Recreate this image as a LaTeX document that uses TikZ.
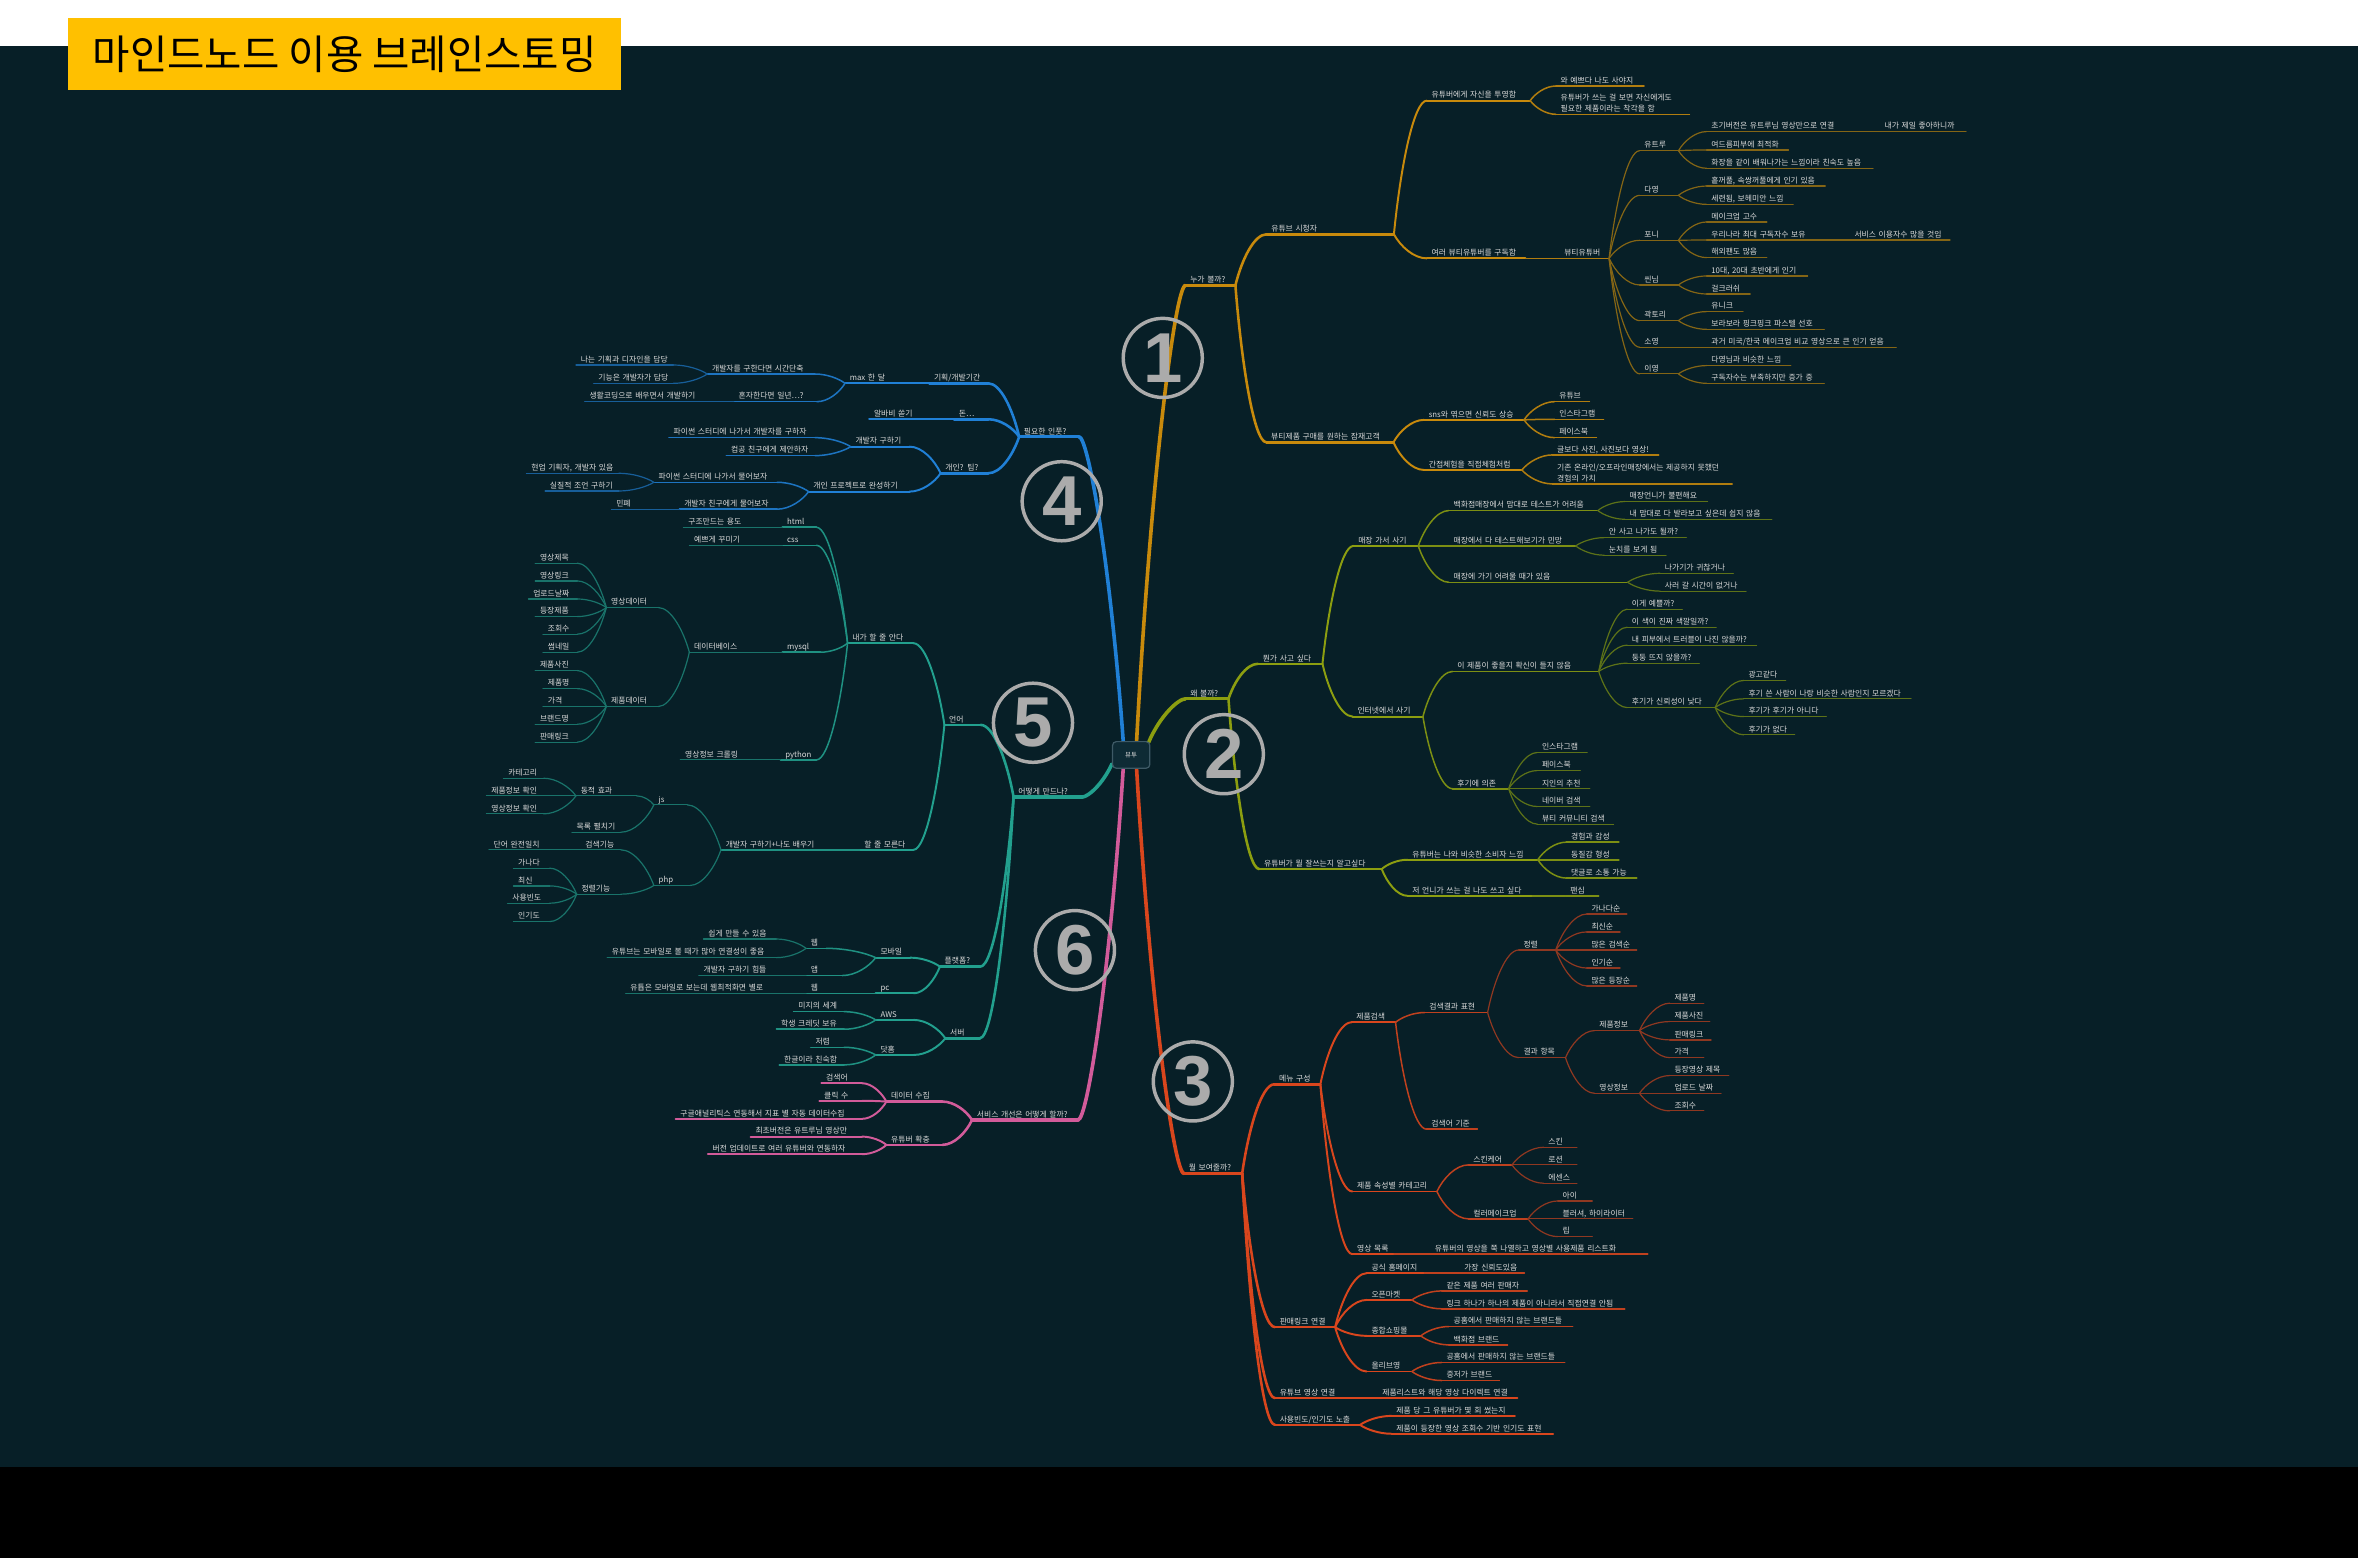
\documentclass[tikz,border=0pt]{standalone}
\usepackage{fontspec}
\setmainfont{Noto Sans CJK KR}
\newfontfamily\digitfont{Liberation Sans}
\usetikzlibrary{calc}
\pgfdeclarelayer{back}
\pgfdeclarelayer{lines}
\pgfsetlayers{back,lines,main}
\definecolor{bgc}{HTML}{071F27}
\definecolor{cA}{HTML}{C88A0C}
\definecolor{cB}{HTML}{8C9E10}
\definecolor{cC}{HTML}{D9461D}
\definecolor{cD}{HTML}{2080D6}
\definecolor{cE}{HTML}{22A08E}
\definecolor{cF}{HTML}{D25B9A}
\definecolor{txc}{HTML}{DADADA}
\definecolor{numc}{HTML}{ABABAB}
\definecolor{ttl}{HTML}{FFC000}
\definecolor{rootf}{HTML}{0E2B35}
\definecolor{rootd}{HTML}{3E5A66}
\newcommand\fsm{\fontsize{5.2pt}{7.1pt}\selectfont}
\tikzset{
  tbase/.style={inner xsep=3pt, inner ysep=1.2pt, text=txc, font=\fsm, align=left, anchor=south west},
  oneline/.style={text height=4.2pt, text depth=0.4pt},
  ndu/.style 2 args={tbase, append after command={(\tikzlastnode.south west) edge[draw=#1, line width=#2, line cap=round] (\tikzlastnode.south east)}},
  L1/.style={ndu={#1}{2.2pt}},
  L2/.style={ndu={#1}{1.7pt}},
  L3/.style={ndu={#1}{1.3pt}},
  L4/.style={ndu={#1!88!bgc}{1.0pt}},
  L5/.style={ndu={#1!65!bgc}{0.8pt}},
  K1/.style={draw=#1, line width=2.2pt, line cap=round},
  K2/.style={draw=#1, line width=1.7pt, line cap=round},
  K3/.style={draw=#1, line width=1.3pt, line cap=round},
  K4/.style={draw=#1!88!bgc, line width=1.0pt, line cap=round},
  K5/.style={draw=#1!65!bgc, line width=0.8pt, line cap=round},
  mline/.style={draw=#1, line width=2.4pt, line cap=round},
  conn/.style={to path={let \p1=(\tikztostart), \p2=(\tikztotarget) in .. controls ({\x1+0.2*(\x2-\x1)},{\y1+0.5*(\y2-\y1)}) and ({\x2-0.4*(\x2-\x1)},\y2) .. (\tikztotarget)}},
  mconn/.style={to path={let \p1=(\tikztostart), \p2=(\tikztotarget) in .. controls ({\x1+0.3*(\x2-\x1)},{\y1+0.6*(\y2-\y1)}) and ({\x2-0.2*(\x2-\x1)},\y2) .. (\tikztotarget)}},
  numring/.style={circle, draw=numc, line width=2.3pt, minimum size=52.6pt, inner sep=0pt, text=numc, font=\digitfont\bfseries\fontsize{47pt}{47pt}\selectfont},
}
% first-level node: color, name, x1, x2, y, text
\newcommand\FN[6]{\pgfmathsetmacro\mytw{#4-#3-6}\node[L1=#1, oneline, text width=\mytw pt] (#2) at (#3,#5) {\mbox{#6}};}
% right-side child: level, color, parent, name, x1, x2, y, text
\newcommand\RN[8]{\pgfmathsetmacro\mytw{#6-#5-6}\node[L#1=#2, oneline, text width=\mytw pt] (#4) at (#5,#7) {\mbox{#8}};\draw[K#1=#2] (#3.south east) to[conn] (#4.south west);}
\newcommand\RM[8]{\pgfmathsetmacro\mytw{#6-#5-6}\node[L#1=#2, text width=\mytw pt] (#4) at (#5,#7) {#8};\draw[K#1=#2] (#3.south east) to[conn] (#4.south west);}
% left-side child
\newcommand\LN[8]{\pgfmathsetmacro\mytw{#6-#5-6}\node[L#1=#2, oneline, text width=\mytw pt] (#4) at (#5,#7) {\mbox{#8}};\draw[K#1=#2] (#3.south west) to[conn] (#4.south east);}
\begin{document}
\begin{tikzpicture}[x=1pt,y=-1pt]
\useasboundingbox (0,0) rectangle (1568,1036);
\begin{pgfonlayer}{back}
\fill[white] (0,0) rectangle (1568,30.4);
\fill[bgc] (0,30.4) rectangle (1568,975.5);
\fill[black] (0,975.5) rectangle (1568,1036);
\end{pgfonlayer}
\node[fill=ttl, text=black, minimum width=368pt, minimum height=47.5pt, inner sep=0pt, anchor=north west, font=\fontsize{27pt}{30pt}\selectfont] (title) at (45,12) {마인드노드 이용 브레인스토밍};
\node[draw=rootd, fill=rootf, rounded corners=2.5pt, line width=0.8pt, minimum width=24.8pt, minimum height=17.7pt, inner sep=0pt, text=txc, font=\fontsize{4.3pt}{5pt}\selectfont] (root) at (752.2,502) {뷰투};

% ---------- Branch A ----------
\FN{cA}{a1}{788.3}{821.1}{189.8}{누가 볼까?}
\RN{2}{cA}{a1}{a2}{842.2}{926.5}{155.8}{유튜브 시청자}
\RN{2}{cA}{a1}{a3}{842.1}{926.2}{294.1}{뷰티제품 구매를 원하는 잠재고객}
\RN{3}{cA}{a2}{a4}{948.8}{1017.1}{66.9}{유튜버에게 자신을 투영함}
\RN{3}{cA}{a2}{a5}{948.8}{1014}{171.8}{여러 뷰티유튜버를 구독함}
\RN{4}{cA}{a4}{a6}{1034.6}{1092.8}{57.2}{와 예쁘다 나도 사야지}
\RM{4}{cA}{a4}{a7}{1034.6}{1123}{76.0}{\mbox{유튜버가 쓰는 걸 보면 자신에게도}\\\mbox{필요한 제품이라는 착각을 함}}
\RN{4}{cA}{a5}{a8}{1037}{1069.6}{171.8}{뷰티유튜버}
\RN{5}{cA}{a8}{a9}{1090.3}{1115.7}{100.2}{유트루}
\RN{5}{cA}{a8}{a10}{1090.3}{1115.7}{129.9}{다영}
\RN{5}{cA}{a8}{a11}{1090.3}{1115.7}{159.8}{포니}
\RN{5}{cA}{a8}{a12}{1090.3}{1115.7}{189.5}{씬님}
\RN{5}{cA}{a8}{a13}{1090.3}{1115.7}{213.2}{곽토리}
\RN{5}{cA}{a8}{a14}{1090.3}{1115.7}{230.9}{소영}
\RN{5}{cA}{a8}{a15}{1090.3}{1115.7}{248.6}{이영}
\RN{5}{cA}{a9}{a16}{1134.8}{1229}{87.5}{초기버전은 유트루님 영상만으로 연결}
\RN{5}{cA}{a16}{a17}{1250}{1307}{87.5}{내가 제일 좋아하니까}
\RN{5}{cA}{a9}{a18}{1134.8}{1188.9}{99.7}{여드름피부에 최적화}
\RN{5}{cA}{a9}{a19}{1134.8}{1245.1}{111.9}{화장을 같이 배워나가는 느낌이라 친숙도 높음}
\RN{5}{cA}{a10}{a20}{1134.8}{1213.3}{123.7}{홑꺼풀, 속쌍꺼풀에게 인기 있음}
\RN{5}{cA}{a10}{a21}{1134.8}{1192}{135.9}{세련됨, 보헤미안 느낌}
\RN{5}{cA}{a11}{a22}{1134.8}{1174.5}{147.6}{메이크업 고수}
\RN{5}{cA}{a11}{a23}{1134.8}{1210}{159.6}{우리나라 최대 구독자수 보유}
\RN{5}{cA}{a23}{a24}{1230}{1296.3}{159.6}{서비스 이용자수 많을 것임}
\RN{5}{cA}{a11}{a25}{1134.8}{1174.5}{171.3}{해외팬도 많음}
\RN{5}{cA}{a12}{a26}{1134.8}{1201.6}{183.5}{10대, 20대 초반에게 인기}
\RN{5}{cA}{a12}{a27}{1134.8}{1163.4}{195.5}{걸크러쉬}
\RN{5}{cA}{a13}{a28}{1134.8}{1158.6}{207.2}{유니크}
\RN{5}{cA}{a13}{a29}{1134.8}{1212.7}{219.0}{보라보라 핑크핑크 파스텔 선호}
\RN{5}{cA}{a14}{a30}{1134.8}{1260.5}{230.9}{과거 미국/한국 메이크업 비교 영상으로 큰 인기 얻음}
\RN{5}{cA}{a15}{a31}{1134.8}{1190.4}{243.1}{다영님과 비슷한 느낌}
\RN{5}{cA}{a15}{a32}{1134.8}{1212.7}{254.9}{구독자수는 부족하지만 증가 중}
\RN{3}{cA}{a3}{a33}{946.9}{1013}{279.2}{sns와 엮으면 신뢰도 상승}
\RN{3}{cA}{a3}{a34}{946.9}{1011.6}{312.5}{간접체험을 직접체험처럼}
\RN{4}{cA}{a33}{a35}{1033.7}{1056.5}{267.1}{유튜브}
\RN{4}{cA}{a33}{a36}{1033.7}{1065.9}{278.8}{인스타그램}
\RN{4}{cA}{a33}{a37}{1033.7}{1061.2}{291.0}{페이스북}
\RN{4}{cA}{a34}{a38}{1032.3}{1102.6}{302.5}{글보다 사진, 사진보다 영상!}
\RM{4}{cA}{a34}{a39}{1032.3}{1151.4}{321.8}{\mbox{기존 온라인/오프라인매장에서는 제공하지 못했던}\\\mbox{경험의 가치}}

% ---------- Branch B ----------
\FN{cB}{b1}{788.3}{816.5}{464.7}{왜 볼까?}
\RN{2}{cB}{b1}{b2}{836.5}{879}{441.4}{뭔가 사고 싶다}
\RN{2}{cB}{b1}{b3}{837.4}{918.4}{577.9}{유튜버가 뭘 잘쓰는지 알고싶다}
\RN{3}{cB}{b2}{b4}{900}{942.7}{363}{매장 가서 사기}
\RN{3}{cB}{b2}{b5}{899.5}{945.8}{476.5}{인터넷에서 사기}
\RN{4}{cB}{b4}{b6}{963.4}{1062.1}{339.5}{백화점매장에서 맘대로 테스트가 어려움}
\RN{4}{cB}{b4}{b7}{963.4}{1047.4}{363}{매장에서 다 테스트해보기가 민망}
\RN{4}{cB}{b4}{b8}{963.4}{1081.9}{387.2}{매장에 가기 어려울 때가 있음}
\RN{5}{cB}{b6}{b9}{1080.5}{1135.1}{333.5}{매장언니가 불편해요}
\RN{5}{cB}{b6}{b10}{1080.5}{1177.8}{345.3}{내 맘대로 다 발라보고 싶은데 쉽지 않음}
\RN{5}{cB}{b7}{b11}{1066.7}{1121}{357.5}{안 사고 나가도 될까?}
\RN{5}{cB}{b7}{b12}{1066.7}{1107.5}{369.2}{눈치를 보게 됨}
\RN{5}{cB}{b8}{b13}{1103.9}{1152.2}{381.2}{나가기가 귀찮거나}
\RN{5}{cB}{b8}{b14}{1103.9}{1160.7}{393.1}{사러 갈 시간이 없거나}
\RN{4}{cB}{b5}{b15}{965.9}{1062.7}{446.5}{이 제품이 좋을지 확신이 들지 않음}
\RN{4}{cB}{b5}{b16}{965.9}{1002.8}{524.5}{후기에 의존}
\RN{5}{cB}{b15}{b17}{1082}{1118.3}{405.1}{이게 예쁠까?}
\RN{5}{cB}{b15}{b18}{1082}{1140.8}{417.1}{이 색이 진짜 색깔일까?}
\RN{5}{cB}{b15}{b19}{1082}{1167.6}{429.0}{내 피부에서 트러블이 나진 않을까?}
\RN{5}{cB}{b15}{b20}{1082}{1129.6}{441.0}{둥둥 뜨지 않을까?}
\RN{5}{cB}{b15}{b21}{1082}{1140.1}{470.5}{후기가 신뢰성이 낮다}
\RN{5}{cB}{b21}{b22}{1159.5}{1187}{452.5}{광고같다}
\RN{5}{cB}{b21}{b23}{1159.5}{1270.4}{464.7}{후기 쓴 사람이 나랑 비슷한 사람인지 모르겠다}
\RN{5}{cB}{b21}{b24}{1159.5}{1214}{476.5}{후기가 후기가 아니다}
\RN{5}{cB}{b21}{b25}{1159.5}{1193}{488.6}{후기가 없다}
\RN{5}{cB}{b16}{b26}{1022.2}{1055}{500.4}{인스타그램}
\RN{5}{cB}{b16}{b27}{1022.2}{1050.4}{512.4}{페이스북}
\RN{5}{cB}{b16}{b28}{1022.2}{1056.7}{524.5}{지인의 추천}
\RN{5}{cB}{b16}{b29}{1022.2}{1056.7}{536.3}{네이버 검색}
\RN{5}{cB}{b16}{b30}{1022.2}{1072.5}{548.0}{뷰티 커뮤니티 검색}
\RN{3}{cB}{b3}{b31}{936}{1022.2}{571.7}{유튜버는 나와 비슷한 소비자 느낌}
\RN{3}{cB}{b3}{b32}{936}{1018.7}{595.7}{저 언니가 쓰는 걸 나도 쓰고 싶다}
\RN{4}{cB}{b32}{b33}{1041}{1062.7}{595.7}{팬심}
\RN{4}{cB}{b31}{b34}{1041.6}{1076.1}{560}{경험과 감성}
\RN{4}{cB}{b31}{b35}{1041.6}{1076.1}{571.7}{동질감 형성}
\RN{4}{cB}{b31}{b36}{1041.6}{1088}{583.9}{댓글로 소통 가능}

% ---------- Branch C ----------
\FN{cC}{c1}{787.3}{825.6}{780.3}{뭘 보여줄까?}
\RN{2}{cC}{c1}{c2}{847.4}{877.6}{721}{메뉴 구성}
\RN{2}{cC}{c1}{c3}{847.8}{887.4}{882.5}{판매링크 연결}
\RN{2}{cC}{c1}{c4}{847.8}{891}{929.7}{유튜브 영상 연결}
\RN{3}{cC}{c4}{c5}{916}{1008.6}{929.7}{제품리스트와 해당 영상 다이렉트 연결}
\RN{2}{cC}{c1}{c6}{847.8}{904}{947.5}{사용빈도/인기도 노출}
\RN{3}{cC}{c2}{c7}{898.7}{927.6}{679.8}{제품검색}
\RN{3}{cC}{c2}{c8}{899.3}{955.1}{792.3}{제품 속성별 카테고리}
\RN{3}{cC}{c2}{c9}{899.3}{926.6}{834}{영상 목록}
\RN{4}{cC}{c9}{c10}{951}{1095.3}{834}{유튜버의 영상을 쭉 나열하고 영상별 사용제품 리스트화}
\RN{4}{cC}{c7}{c11}{947.3}{988.8}{673.3}{검색결과 표현}
\RN{4}{cC}{c7}{c12}{948.6}{982}{750.9}{검색어 기준}
\RN{5}{cC}{c11}{c13}{1009.9}{1034.1}{631.7}{정렬}
\RN{5}{cC}{c11}{c14}{1009.9}{1040.6}{703.3}{결과 항목}
\RN{5}{cC}{c13}{c15}{1055.1}{1081.4}{607.8}{가나다순}
\RN{5}{cC}{c13}{c16}{1055.1}{1076.9}{619.7}{최신순}
\RN{5}{cC}{c13}{c17}{1055.1}{1088}{631.7}{많은 검색순}
\RN{5}{cC}{c13}{c18}{1055.1}{1076.9}{643.7}{인기순}
\RN{5}{cC}{c13}{c19}{1055.1}{1088}{655.6}{많은 등장순}
\RN{5}{cC}{c14}{c20}{1060.3}{1089.8}{685.3}{제품정보}
\RN{5}{cC}{c14}{c21}{1060.3}{1089.8}{727}{영상정보}
\RN{5}{cC}{c20}{c22}{1110.3}{1132.6}{667.1}{제품명}
\RN{5}{cC}{c20}{c23}{1110.3}{1136.6}{679.3}{제품사진}
\RN{5}{cC}{c20}{c24}{1110.3}{1137.4}{691.5}{판매링크}
\RN{5}{cC}{c20}{c25}{1110.3}{1132.6}{703.3}{가격}
\RN{5}{cC}{c21}{c26}{1110.3}{1149.2}{715.2}{등장영상 제목}
\RN{5}{cC}{c21}{c27}{1110.3}{1144}{727}{업로드 날짜}
\RN{5}{cC}{c21}{c28}{1110.3}{1132.6}{738.7}{조회수}
\RN{4}{cC}{c8}{c29}{976.5}{1005}{774.6}{스킨케어}
\RN{4}{cC}{c8}{c30}{976.5}{1015.7}{810.5}{컬러메이크업}
\RN{5}{cC}{c29}{c31}{1026.4}{1048.2}{762.9}{스킨}
\RN{5}{cC}{c29}{c32}{1026.4}{1048.2}{774.6}{로션}
\RN{5}{cC}{c29}{c33}{1026.4}{1048.2}{786.8}{에센스}
\RN{5}{cC}{c30}{c34}{1035.9}{1058.4}{798.6}{아이}
\RN{5}{cC}{c30}{c35}{1035.9}{1085.3}{810.5}{블러셔, 하이라이터}
\RN{5}{cC}{c30}{c36}{1035.9}{1058.4}{822.3}{립}
\RN{3}{cC}{c3}{c37}{908.8}{946.8}{846.6}{공식 홈페이지}
\RN{4}{cC}{c37}{c38}{970.5}{1013.3}{846.6}{가장 신뢰도있음}
\RN{3}{cC}{c3}{c39}{908.8}{938.5}{864.4}{오픈마켓}
\RN{3}{cC}{c3}{c40}{908.8}{944.4}{888.3}{종합쇼핑몰}
\RN{3}{cC}{c3}{c41}{908.8}{938.5}{912}{올리브영}
\RN{4}{cC}{c39}{c42}{958.7}{1015.2}{858.4}{같은 제품 여러 판매자}
\RN{4}{cC}{c39}{c43}{958.7}{1080}{870.3}{링크 하나가 하나의 제품이 아니라서 직접연결 안됨}
\RN{4}{cC}{c40}{c44}{963.4}{1045.4}{882.1}{공홈에서 판매하지 않는 브랜드들}
\RN{4}{cC}{c40}{c45}{963.4}{1002.1}{894.3}{백화점 브랜드}
\RN{4}{cC}{c41}{c46}{958.7}{1040.1}{906}{공홈에서 판매하지 않는 브랜드들}
\RN{4}{cC}{c41}{c47}{958.7}{996.7}{918}{중저가 브랜드}
\RN{3}{cC}{c6}{c48}{925.4}{1006.9}{941.5}{제품 당 그 유튜버가 몇 회 썼는지}
\RN{3}{cC}{c6}{c49}{925.4}{1032.3}{953.4}{제품이 등장한 영상 조회수 기반 인기도 표현}

% ---------- Branch D ----------
\FN{cD}{d1}{677.7}{717.1}{290.4}{필요한 인풋?}
\LN{2}{cD}{d1}{d2}{617.9}{656.8}{254.9}{기획/개발기간}
\LN{2}{cD}{d1}{d3}{634.4}{656.8}{278.8}{돈…}
\LN{2}{cD}{d1}{d4}{625.5}{656.8}{314.7}{개인? 팀?}
\LN{3}{cD}{d2}{d5}{561.9}{615}{254.9}{max 한 달}
\LN{3}{cD}{d3}{d6}{578}{631}{278.8}{알바비 쏟기}
\LN{3}{cD}{d4}{d7}{565.7}{604.4}{297}{개발자 구하기}
\LN{3}{cD}{d4}{d8}{537.7}{604.4}{326.9}{개인 프로젝트로 완성하기}
\LN{4}{cD}{d5}{d9}{470.3}{541.5}{248.7}{개발자를 구한다면 시간단축}
\LN{4}{cD}{d5}{d10}{488}{542.8}{267.1}{혼자한다면 일년…?}
\LN{5}{cD}{d10}{d11}{388.8}{486}{267.1}{생활코딩으로 배우면서 개발하기}
\LN{5}{cD}{d9}{d12}{383}{447.4}{242.7}{나는 기획과 디자인을 담당}
\LN{5}{cD}{d9}{d13}{394.7}{447.4}{254.9}{기능은 개발자가 담당}
\LN{4}{cD}{d7}{d14}{444.8}{541.5}{291}{파이썬 스터디에 나가서 개발자를 구하자}
\LN{4}{cD}{d7}{d15}{483}{541.5}{303}{컴공 친구에게 제안하자}
\LN{4}{cD}{d8}{d16}{434.8}{516.3}{320.7}{파이썬 스터디에 나가서 물어보자}
\LN{4}{cD}{d8}{d17}{451.8}{516.3}{338.6}{개발자 친구에게 물어보자}
\LN{5}{cD}{d17}{d18}{406.6}{449}{338.6}{민폐}
\LN{5}{cD}{d16}{d19}{350.1}{411.1}{314.7}{현업 기획자, 개발자 있음}
\LN{5}{cD}{d16}{d20}{362.5}{411.1}{326.5}{실질적 조언 구하기}

% ---------- Branch E ----------
\FN{cE}{e1}{674}{719.2}{530}{어떻게 만드나?}
\LN{2}{cE}{e1}{e2}{628}{651.6}{482}{언어}
\LN{2}{cE}{e1}{e3}{625}{651.4}{642.8}{플랫폼?}
\LN{2}{cE}{e1}{e4}{628.6}{651.2}{690.4}{서버}
\LN{3}{cE}{e2}{e5}{563.6}{607}{427.7}{내가 할 줄 안다}
\LN{3}{cE}{e2}{e6}{571.5}{607}{565.1}{할 줄 모른다}
\LN{4}{cE}{e5}{e7}{520.2}{542.5}{350.6}{html}
\LN{4}{cE}{e5}{e8}{520.2}{542.5}{362.6}{css}
\LN{4}{cE}{e5}{e9}{520.2}{545.2}{433.7}{mysql}
\LN{4}{cE}{e5}{e10}{519}{542.5}{505.3}{python}
\LN{5}{cE}{e7}{e11}{454.5}{518}{350.6}{구조만드는 용도}
\LN{5}{cE}{e8}{e12}{458.4}{518}{362.6}{예쁘게 꾸미기}
\LN{5}{cE}{e9}{e13}{458.4}{518}{433.7}{데이터베이스}
\LN{5}{cE}{e10}{e14}{452.4}{517}{505.3}{영상정보 크롤링}
\LN{5}{cE}{e13}{e15}{403.2}{437.4}{404}{영상데이터}
\LN{5}{cE}{e13}{e16}{403.2}{437.4}{469.8}{제품데이터}
\LN{5}{cE}{e15}{e17}{355.9}{383.5}{374.5}{영상제목}
\LN{5}{cE}{e15}{e18}{355.9}{383.5}{386.3}{영상링크}
\LN{5}{cE}{e15}{e19}{351.4}{383.5}{398.3}{업로드날짜}
\LN{5}{cE}{e15}{e20}{355.9}{383.5}{410.0}{등장제품}
\LN{5}{cE}{e15}{e21}{361.1}{383.5}{421.7}{조회수}
\LN{5}{cE}{e15}{e22}{361.1}{383.5}{433.7}{썸네일}
\LN{5}{cE}{e16}{e23}{355.9}{383.5}{445.9}{제품사진}
\LN{5}{cE}{e16}{e24}{361.1}{383.5}{457.9}{제품명}
\LN{5}{cE}{e16}{e25}{361.1}{383.5}{469.8}{가격}
\LN{5}{cE}{e16}{e26}{355.9}{383.5}{481.6}{브랜드명}
\LN{5}{cE}{e16}{e27}{355.9}{383.5}{493.5}{판매링크}
\LN{4}{cE}{e6}{e28}{479.4}{569}{565.1}{개발자 구하기+나도 배우기}
\LN{5}{cE}{e28}{e29}{434.8}{456.6}{535.2}{js}
\LN{5}{cE}{e28}{e30}{434.8}{458.4}{588.8}{php}
\LN{5}{cE}{e29}{e31}{383}{422.9}{529.2}{동적 효과}
\LN{5}{cE}{e29}{e32}{380.3}{412.4}{553.4}{목록 펼치기}
\LN{5}{cE}{e31}{e33}{334.8}{361.1}{517.5}{카테고리}
\LN{5}{cE}{e31}{e34}{323.5}{361.1}{529.2}{제품정보 확인}
\LN{5}{cE}{e31}{e35}{323.5}{361.1}{541.2}{영상정보 확인}
\LN{5}{cE}{e30}{e36}{386.1}{412.4}{565.1}{검색기능}
\LN{5}{cE}{e36}{e37}{325.1}{384}{565.1}{단어 완전일치}
\LN{5}{cE}{e30}{e38}{383.5}{412.4}{594.6}{정렬기능}
\LN{5}{cE}{e38}{e39}{341.4}{365.1}{577.3}{가나다}
\LN{5}{cE}{e38}{e40}{341.4}{365.1}{589.1}{최신}
\LN{5}{cE}{e38}{e41}{337.5}{365.1}{600.6}{사용빈도}
\LN{5}{cE}{e38}{e42}{341.4}{365.1}{612.8}{인기도}
\LN{3}{cE}{e3}{e43}{582.3}{604.9}{636.8}{모바일}
\LN{3}{cE}{e3}{e44}{582.3}{607.2}{660.5}{pc}
\LN{4}{cE}{e43}{e45}{536}{549}{630.6}{웹}
\LN{4}{cE}{e43}{e46}{536}{559.7}{648.7}{앱}
\LN{4}{cE}{e44}{e47}{536}{580}{660.5}{웹}
\LN{5}{cE}{e45}{e48}{467.8}{515.8}{624.4}{쉽게 만들 수 있음}
\LN{5}{cE}{e45}{e49}{403.7}{515.8}{636.8}{유튜브는 모바일로 볼 때가 많아 연결성이 좋음}
\LN{5}{cE}{e46}{e50}{464.7}{534}{648.7}{개발자 구하기 힘듦}
\LN{5}{cE}{e47}{e51}{416}{534}{660.5}{유튭은 모바일로 보는데 웹최적화면 별로}
\LN{3}{cE}{e4}{e52}{582.3}{607.2}{678.2}{AWS}
\LN{3}{cE}{e4}{e53}{582.3}{607.2}{701.5}{닷홈}
\LN{4}{cE}{e52}{e54}{527.7}{560.9}{672.7}{미지의 세계}
\LN{4}{cE}{e52}{e55}{516.3}{560.9}{684.4}{학생 크레딧 보유}
\LN{4}{cE}{e53}{e56}{539.1}{560.9}{696.4}{저렴}
\LN{4}{cE}{e53}{e57}{518.2}{560.9}{708.1}{한글이라 친숙함}

% ---------- Branch F ----------
\FN{cF}{f1}{646.4}{716.5}{744.7}{서비스 개선은 어떻게 할까?}
\LN{2}{cF}{f1}{f2}{589.4}{626.2}{732.5}{데이터 수집}
\LN{2}{cF}{f1}{f3}{589.4}{626.2}{761.3}{유튜버 확충}
\LN{3}{cF}{f2}{f4}{546.2}{572.8}{720.3}{검색어}
\LN{3}{cF}{f2}{f5}{544.8}{572.8}{732}{클릭 수}
\LN{3}{cF}{f2}{f6}{449.3}{572.8}{744}{구글애널리틱스 연동해서 지표 별 자동 데이터수집}
\LN{3}{cF}{f3}{f7}{499.2}{572.8}{755.8}{최초버전은 유트루님 영상만}
\LN{3}{cF}{f3}{f8}{470.7}{572.8}{767.5}{버전 업데이트로 여러 유튜버와 연동하자}

% ---------- main connectors from the root ----------
\begin{pgfonlayer}{lines}
\draw[mline=cA] ([xshift=3.6pt]root.north) to[mconn] (a1.south west);
\draw[mline=cB] ([xshift=-1.2pt,yshift=-0.9pt]root.north east) to[mconn] (b1.south west);
\draw[mline=cC] ([xshift=3.6pt]root.south) to[mconn] (c1.south west);
\draw[mline=cD] ([xshift=-5.3pt]root.north) to[mconn] (d1.south east);
\draw[mline=cE] ([yshift=3.3pt]root.south west) to[mconn] (e1.south east);
\draw[mline=cF] ([xshift=-5.3pt]root.south) to[mconn] (f1.south east);
\end{pgfonlayer}

% ---------- circled numbers ----------
\node[numring] (num1) at (773.2,238) {1};
\node[numring] (num2) at (813.8,501.5) {2};
\node[numring] (num3) at (793.2,719.1) {3};
\node[numring] (num4) at (706,333.3) {4};
\node[numring] (num5) at (686.9,480.6) {5};
\node[numring] (num6) at (714.8,631.8) {6};
\end{tikzpicture}
\end{document}
